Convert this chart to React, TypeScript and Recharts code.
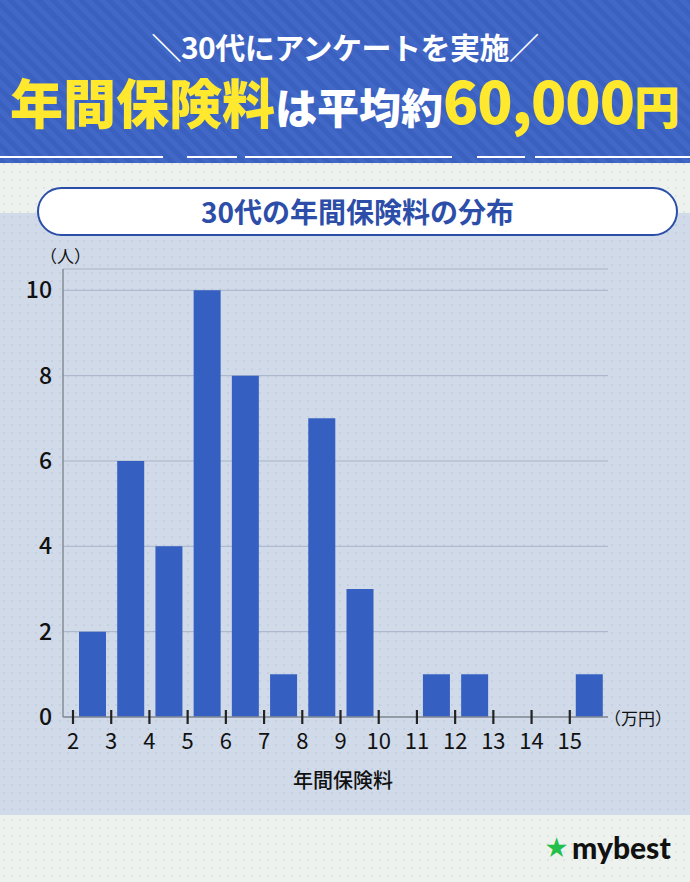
import React from 'react';
import { BarChart, Bar, XAxis, YAxis, CartesianGrid } from 'recharts';

// bins start at these values (万円), each bin is 1万円 wide
const binStarts = [2, 3, 4, 5, 6, 7, 8, 9, 10, 11, 12, 13, 14, 15];
const counts = [2, 6, 4, 10, 8, 1, 7, 3, 0, 1, 1, 0, 0, 1];
const xTicks = [2, 3, 4, 5, 6, 7, 8, 9, 10, 11, 12, 13, 14, 15];
const yTicks = [0, 2, 4, 6, 8, 10];

const data = binStarts.map((b, i) => ({ mid: b + 0.5, count: counts[i] }));

const FONT = '"Noto Sans CJK JP", "Noto Sans", sans-serif';

const XTick = (props: any) => {
  const { x, y, payload } = props;
  return (
    <g>
      <line x1={x} x2={x} y1={y - 7} y2={y + 7} stroke="#222" strokeWidth={2.2} />
      <text x={x} y={y + 32} textAnchor="middle" fontSize={22} fill="#111" fontFamily={FONT}>
        {payload.value}
      </text>
    </g>
  );
};

export default function App() {
  return (
    <div
      style={{
        position: 'relative',
        width: 690,
        height: 882,
        overflow: 'hidden',
        fontFamily: FONT,
        background: '#eef2ee',
        backgroundImage: 'radial-gradient(#dfe5df 1px, transparent 1.2px)',
        backgroundSize: '8px 8px',
      }}
    >
      <style>{`body{margin:0}`}</style>
      {/* header */}
      <div
        style={{
          position: 'absolute',
          left: 0,
          top: 0,
          width: 690,
          height: 163,
          background: 'repeating-linear-gradient(45deg, #3a61c0 0px, #3a61c0 5px, #4168c6 5px, #4168c6 10px)',
        }}
      >
        <div
          style={{
            position: 'absolute',
            top: 24,
            width: '100%',
            textAlign: 'center',
            color: '#fff',
            fontSize: 30,
            fontWeight: 700,
            letterSpacing: -0.5,
          }}
        >
          ＼30代にアンケートを実施／
        </div>
        <div
          style={{
            position: 'absolute',
            top: 64,
            width: '100%',
            textAlign: 'center',
            fontWeight: 900,
            whiteSpace: 'nowrap',
            lineHeight: '70px',
          }}
        >
          <span style={{ color: '#ffe82e', fontSize: 53 }}>年間保険料</span>
          <span style={{ color: '#fff', fontSize: 42 }}>は平均約</span>
          <span style={{ color: '#ffe82e', fontSize: 58, letterSpacing: -1 }}>60,000</span>
          <span style={{ color: '#ffe82e', fontSize: 46 }}>円</span>
        </div>
        {/* dashed divider */}
        {[
          [0, 163],
          [187, 237],
          [245, 452],
          [477, 525],
          [535, 690],
        ].map(([a, b], i) => (
          <div
            key={i}
            style={{ position: 'absolute', top: 156, left: a, width: b - a, height: 2, background: '#fff' }}
          />
        ))}
      </div>

      {/* chart panel */}
      <div
        style={{
          position: 'absolute',
          left: 0,
          top: 213,
          width: 690,
          height: 602,
          background: '#d0dae9',
          backgroundImage: 'radial-gradient(#c4cfe0 1px, transparent 1.2px)',
          backgroundSize: '8px 8px',
        }}
      />

      {/* panel title pill */}
      <div
        style={{
          position: 'absolute',
          left: 37,
          top: 187,
          width: 637,
          height: 45,
          border: '2px solid #2b4fa8',
          borderRadius: 25,
          background: '#fff',
          color: '#2c4ea8',
          fontSize: 28,
          fontWeight: 700,
          textAlign: 'center',
          lineHeight: '45px',
        }}
      >
        30代の年間保険料の分布
      </div>

      <div style={{ position: 'absolute', left: 40, top: 243, fontSize: 17, color: '#111' }}>（人）</div>
      <div style={{ position: 'absolute', left: 604, top: 705, fontSize: 17, color: '#111' }}>（万円）</div>
      <div
        style={{
          position: 'absolute',
          left: 0,
          top: 765,
          width: 686,
          textAlign: 'center',
          fontSize: 20,
          fontWeight: 500,
          color: '#111',
        }}
      >
        年間保険料
      </div>

      <div style={{ position: 'absolute', left: 0, top: 0 }}>
        <BarChart width={690} height={882} data={data} margin={{ top: 269, right: 82, bottom: 105, left: 0 }}>
          <CartesianGrid vertical={false} stroke="#a7b3c7" strokeWidth={1} />
          <XAxis
            dataKey="mid"
            type="number"
            domain={[2, 16]}
            ticks={xTicks}
            padding={{ left: 10, right: 0 }}
            height={60}
            tickSize={0}
            tickMargin={0}
            tickLine={false}
            axisLine={{ stroke: '#858b95', strokeWidth: 1.5 }}
            tick={<XTick />}
            interval={0}
          />
          <YAxis
            type="number"
            domain={[0, 10.5]}
            ticks={yTicks}
            width={63}
            tickSize={0}
            tickMargin={11}
            tickLine={false}
            axisLine={{ stroke: '#858b95', strokeWidth: 1.5 }}
            tick={{ fontSize: 23, fontWeight: 500, fill: '#111', fontFamily: FONT }}
            allowDataOverflow
          />
          <Bar dataKey="count" fill="#3560c1" barSize={27} isAnimationActive={false} />
        </BarChart>
      </div>

      {/* logo */}
      <div
        style={{
          position: 'absolute',
          left: 544,
          top: 829,
          fontFamily: 'Lato, Inter, sans-serif',
          fontWeight: 900,
          fontSize: 30,
          color: '#111',
          whiteSpace: 'nowrap',
        }}
      >
        <span style={{ color: '#22c04a', fontSize: 24, marginRight: 3, verticalAlign: 2 }}>★</span>mybest
      </div>
    </div>
  );
}
